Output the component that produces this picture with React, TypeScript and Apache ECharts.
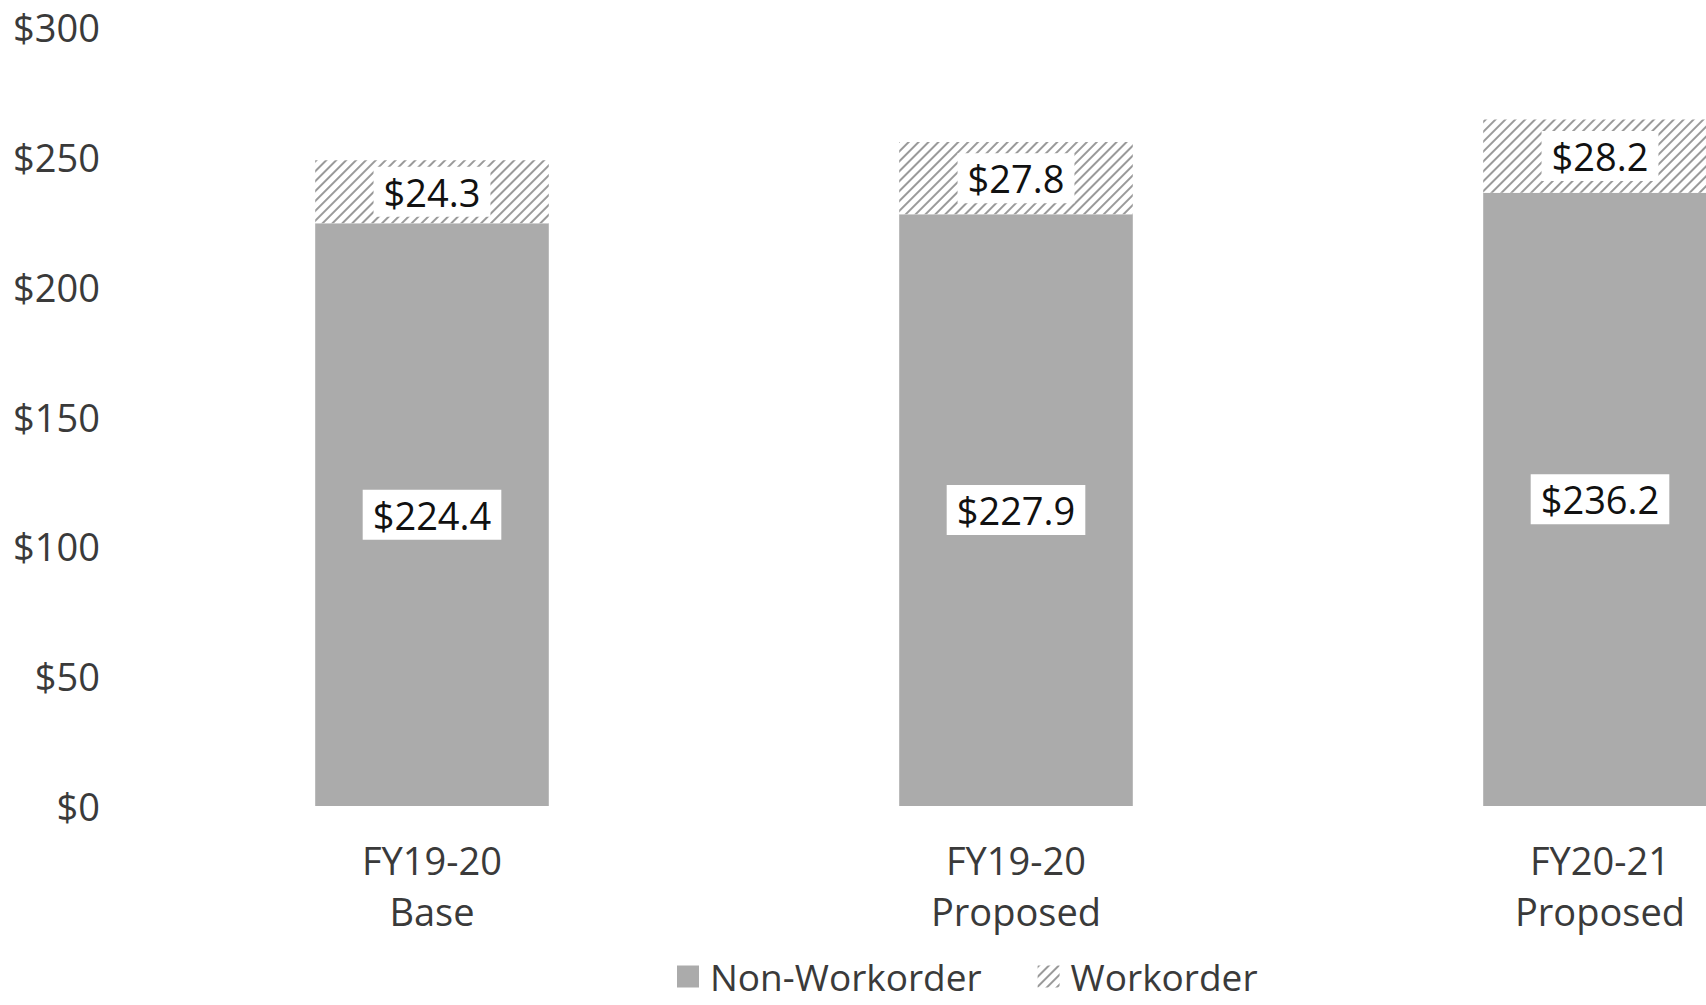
import React, { useEffect, useRef } from "react";
import * as echarts from "echarts";

const categories = ["FY19-20\nBase", "FY19-20\nProposed", "FY20-21\nProposed"];
const nonWorkorder = [224.4, 227.9, 236.2];
const workorder = [24.3, 27.8, 28.2];
const yTicks = [0, 50, 100, 150, 200, 250, 300];

const FONT = "'Open Sans', 'Noto Sans', sans-serif";

export default function App() {
  const ref = useRef<HTMLDivElement>(null);
  useEffect(() => {
    if (!ref.current) return;
    const chart = echarts.init(ref.current, null, { renderer: "svg" });
    const dataLabel = {
      show: true,
      position: "inside",
      formatter: (p: any) => "$" + Number(p.value).toFixed(1),
      fontFamily: FONT,
      fontSize: 38,
      color: "#111",
      backgroundColor: "#ffffff",
      padding: [6, 10, 6, 10],
    };
    chart.setOption({
      animation: false,
      backgroundColor: "#ffffff",
      grid: { left: 140, right: 0, top: 27, bottom: 199, containLabel: false },
      legend: {
        left: 672,
        top: 953,
        itemWidth: 22,
        itemHeight: 22,
        itemGap: 56,
        icon: "rect",
        textStyle: { fontFamily: FONT, fontSize: 37, color: "#3a3a3a", padding: [0, 0, 0, 6] },
        data: ["Non-Workorder", "Workorder"],
      },
      xAxis: {
        type: "category",
        data: categories,
        axisLine: { show: false },
        axisTick: { show: false },
        axisLabel: {
          fontFamily: FONT,
          fontSize: 38,
          color: "#3a3a3a",
          lineHeight: 51,
          margin: 28,
        },
      },
      yAxis: {
        type: "value",
        min: yTicks[0],
        max: yTicks[yTicks.length - 1],
        interval: 50,
        splitLine: { show: false },
        axisLine: { show: false },
        axisTick: { show: false },
        axisLabel: {
          fontFamily: FONT,
          fontSize: 38,
          color: "#3a3a3a",
          margin: 40,
          formatter: (v: number) => "$" + v,
        },
      },
      series: [
        {
          name: "Non-Workorder",
          type: "bar",
          stack: "total",
          barWidth: "40%",
          data: nonWorkorder,
          itemStyle: { color: "#ababab" },
          label: dataLabel,
        },
        {
          name: "Workorder",
          type: "bar",
          stack: "total",
          barWidth: "40%",
          data: workorder,
          itemStyle: {
            color: "#ffffff",
            decal: {
              symbol: "rect",
              color: "#9a9a9a",
              dashArrayX: [1, 0],
              dashArrayY: [2, 5],
              rotation: -Math.PI / 4,
            },
          },
          label: dataLabel,
        },
      ],
    });
    return () => chart.dispose();
  }, []);
  return (
    <div
      style={{
        position: "fixed",
        left: 0,
        top: 0,
        width: 1706,
        height: 1005,
        overflow: "hidden",
        background: "#ffffff",
      }}
    >
      <div ref={ref} style={{ width: 1892, height: 1005 }} />
    </div>
  );
}
